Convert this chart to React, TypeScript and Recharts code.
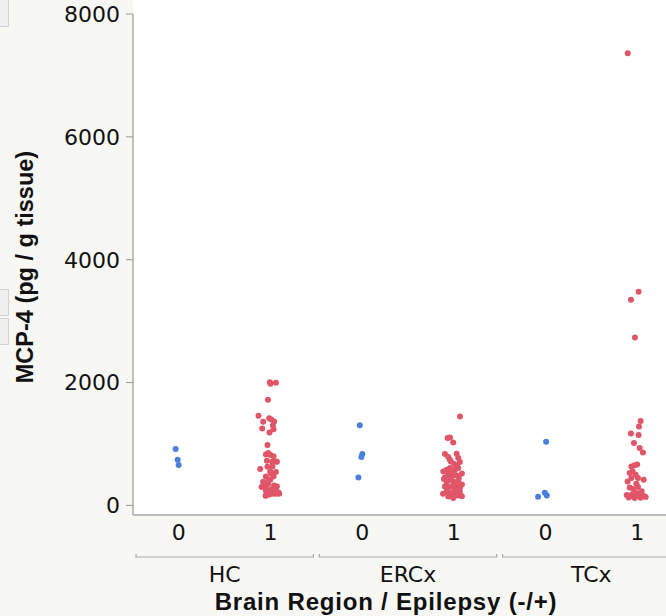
import {
  ScatterChart,
  Scatter,
  XAxis,
  YAxis,
  CartesianGrid,
  ReferenceLine,
  Label,
} from 'recharts';

// brain regions and epilepsy status (-/+) on the x axis
const regions = ['HC', 'ERCx', 'TCx'];
const epilepsyTicks = ['0', '1'];
const yTicks = [0, 2000, 4000, 6000, 8000];

// [jitter within slot, MCP-4 pg/g tissue]
const hc0 = [[-0.035, 920], [-0.013, 745], [-0.002, 660]];
const ercx0 = [[-0.026, 1307], [0.002, 838], [-0.009, 790], [-0.041, 455]];
const tcx0 = [[0.007, 1036], [-0.081, 140], [-0.008, 205], [0.014, 160]];

const hc1 = [
  [-0.007, 2005], [0.059, 1995], [0.0, 1980], [-0.028, 1722], [-0.131, 1459],
  [-0.014, 1421], [0.008, 1400], [0.04, 1366], [-0.08, 1361], [0.026, 1301],
  [-0.09, 1252], [0.033, 1242], [-0.011, 1187], [-0.033, 982], [-0.05, 830],
  [-0.024, 852], [0.0, 820], [0.033, 800], [-0.039, 727], [0.019, 711],
  [0.07, 711], [0.022, 634], [-0.112, 592], [-0.003, 548], [0.059, 543],
  [-0.05, 472], [0.033, 472], [-0.003, 418], [-0.08, 385], [-0.098, 299],
  [-0.047, 320], [-0.025, 348], [0.04, 325], [0.07, 309], [-0.05, 244],
  [-0.014, 218], [0.059, 244], [0.087, 211], [0.065, 190], [-0.047, 163],
  [-0.017, 418], [-0.076, 337], [0.004, 255], [0.019, 265], [-0.011, 179],
  [0.033, 190], [0.095, 190], [-0.054, 158], [0.008, 515], [-0.033, 629],
  [0.062, 715],
];

const ercx1 = [
  [0.067, 1447], [-0.068, 1096], [-0.042, 1106], [-0.007, 1024], [-0.097, 836],
  [-0.061, 787], [0.031, 841], [0.048, 771], [-0.032, 715], [0.004, 673],
  [0.066, 706], [-0.042, 608], [-0.078, 580], [-0.115, 553], [0.012, 580],
  [0.048, 608], [-0.061, 499], [-0.024, 472], [0.031, 488], [-0.097, 455],
  [-0.042, 418], [-0.007, 390], [0.048, 401], [-0.078, 364], [-0.024, 309],
  [0.031, 325], [-0.061, 283], [0.066, 283], [-0.078, 218], [-0.024, 202],
  [0.031, 185], [0.066, 218], [-0.061, 146], [0.048, 163], [-0.007, 120],
  [-0.053, 540], [0.001, 520], [0.055, 450], [-0.108, 430], [0.012, 350],
  [0.088, 340], [-0.075, 260], [0.012, 250], [-0.118, 190], [0.088, 150],
  [-0.02, 560], [0.034, 640], [-0.042, 740], [0.088, 520], [-0.097, 310],
];

const tcx1 = [
  [-0.103, 7360], [0.016, 3480], [-0.068, 3350], [-0.024, 2732], [0.038, 1375],
  [0.02, 1285], [-0.068, 1170], [0.016, 1148], [-0.035, 1015], [0.027, 933],
  [0.063, 862], [-0.027, 655], [-0.063, 634], [0.0, 665], [-0.082, 527],
  [-0.016, 499], [-0.049, 553], [0.071, 418], [-0.063, 445], [0.009, 445],
  [-0.009, 353], [-0.082, 293], [0.009, 299], [-0.046, 267], [-0.009, 202],
  [-0.114, 170], [-0.082, 150], [-0.06, 175], [-0.038, 140], [-0.016, 160],
  [0.005, 180], [0.027, 145], [0.049, 170], [0.071, 155], [0.093, 135],
  [-0.093, 130], [0.038, 125], [-0.027, 120], [-0.104, 390], [0.049, 230],
];

const toPoints = (slot: number, pts: number[][]) =>
  pts.map(([j, v]) => ({ x: slot + j, y: v }));

const noEpilepsy = [...toPoints(0, hc0), ...toPoints(2, ercx0), ...toPoints(4, tcx0)];
const epilepsy = [...toPoints(1, hc1), ...toPoints(3, ercx1), ...toPoints(5, tcx1)];

const BLUE = '#4a80dc';
const RED = '#e05568';
const AXIS = '#a9a9a9';
const SLOT = 550 / 6; // px per x slot (plot width / 6)

const dot = (color: string) => (p: any) =>
  <circle cx={p.cx} cy={p.cy} r={3} fill={color} />;

// "0"/"1" tick, and under every even slot the region bracket + name
function CatTick({ x, y, payload }: any) {
  const v = payload.value;
  const first = v % 2 === 0;
  const left = x - SLOT / 2 + 3;
  const right = x + SLOT * 1.5 - 3;
  return (
    <g>
      <text
        x={x}
        y={y}
        dy="0.71em"
        textAnchor="middle"
        fontFamily="DejaVu Sans"
        fontSize={22}
        fill="#111"
      >
        {epilepsyTicks[v % 2]}
      </text>
      {first && (
        <g>
          <path
            d={`M${left},${y + 30} V${y + 33} H${right} V${y + 30}`}
            fill="none"
            stroke={AXIS}
            strokeWidth={1.2}
          />
          <text
            x={(left + right) / 2}
            y={y + 58}
            textAnchor="middle"
            fontFamily="DejaVu Sans"
            fontSize={22}
            fill="#111"
          >
            {regions[v / 2]}
          </text>
        </g>
      )}
    </g>
  );
}

export default function App() {
  return (
    <div
      style={{
        position: 'fixed',
        left: 0,
        top: 0,
        width: 666,
        height: 616,
        overflow: 'hidden',
        background: '#f7f7f3',
      }}
    >
      {/* bits of neighbouring widgets at the left edge */}
      <div style={{ position: 'absolute', left: -1, top: -1, width: 8, height: 26, background: '#f0f0f0', border: '1px solid #d2d2d2' }} />
      <div style={{ position: 'absolute', left: -1, top: 289, width: 8, height: 25, background: '#f0f0f0', border: '1px solid #d2d2d2' }} />
      <div style={{ position: 'absolute', left: -1, top: 318, width: 8, height: 25, background: '#f0f0f0', border: '1px solid #d2d2d2' }} />

      <div style={{ position: 'absolute', left: 0, top: 0 }}>
        <ScatterChart
          width={700}
          height={616}
          margin={{ top: 0, right: 17, bottom: 0, left: 0 }}
        >
          <CartesianGrid horizontal={false} vertical={false} fill="#ffffff" />
          <XAxis
            type="number"
            dataKey="x"
            domain={[-0.5, 5.5]}
            ticks={[0, 1, 2, 3, 4, 5]}
            allowDataOverflow
            height={101}
            tickLine={false}
            tickSize={6}
            tickMargin={3}
            axisLine={{ stroke: '#bcbcbc', strokeWidth: 2 }}
            tick={<CatTick />}
          >
            <Label
              content={() => (
                <text
                  x={386}
                  y={610}
                  textAnchor="middle"
                  fontFamily="Liberation Sans, Arial"
                  fontWeight="bold"
                  fontSize={24}
                  letterSpacing={0.8}
                  fill="#111"
                >
                  Brain Region / Epilepsy (-/+)
                </text>
              )}
            />
          </XAxis>
          <YAxis
            type="number"
            dataKey="y"
            domain={[-156, 8228]}
            ticks={yTicks}
            allowDataOverflow
            width={133}
            axisLine={false}
            tickLine={{ stroke: '#999' }}
            tickSize={7}
            tickMargin={6}
            tick={{ fontFamily: 'DejaVu Sans', fontSize: 22, fill: '#111' }}
          >
            <Label
              content={() => (
                <text
                  x={0}
                  y={0}
                  transform="translate(25,267) rotate(-90)"
                  textAnchor="middle"
                  dominantBaseline="central"
                  fontFamily="Liberation Sans, Arial"
                  fontWeight="bold"
                  fontSize={23.5}
                  fill="#111"
                >
                  MCP-4 (pg / g tissue)
                </text>
              )}
            />
          </YAxis>
          <ReferenceLine
            segment={[{ x: -0.5, y: -156 }, { x: -0.5, y: 8000 }]}
            stroke="#999"
            strokeWidth={1.2}
            ifOverflow="visible"
          />
          <Scatter
            name="0"
            data={noEpilepsy}
            fill={BLUE}
            shape={dot(BLUE)}
            isAnimationActive={false}
          />
          <Scatter
            name="1"
            data={epilepsy}
            fill={RED}
            shape={dot(RED)}
            isAnimationActive={false}
          />
        </ScatterChart>
      </div>
    </div>
  );
}
